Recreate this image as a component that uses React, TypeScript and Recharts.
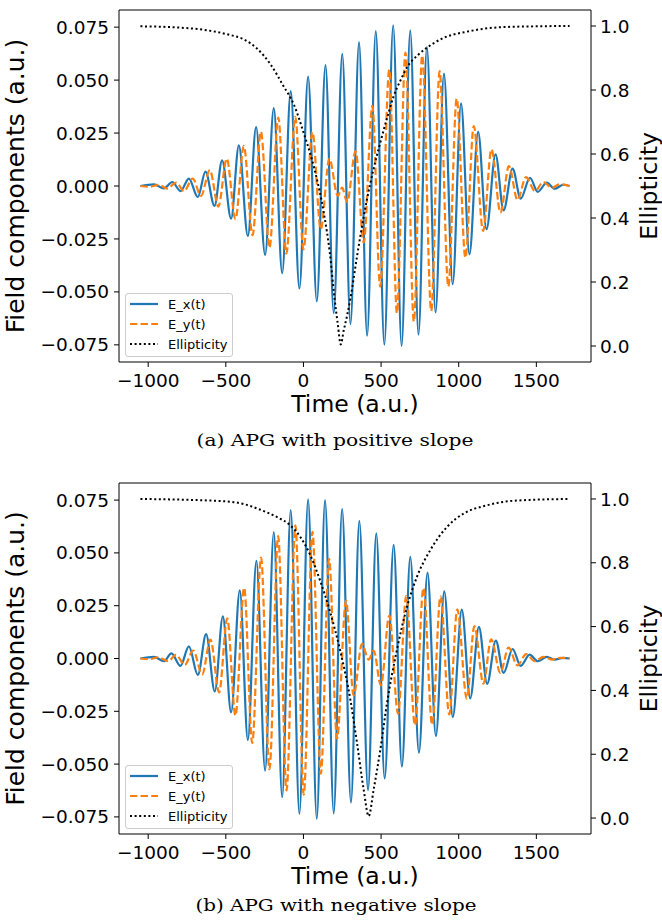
import React from 'react';
import { LineChart, Line, XAxis, YAxis, Legend, ReferenceLine } from 'recharts';

// ---------- axis ticks ----------
const TIME_TICKS = [-1000, -500, 0, 500, 1000, 1500];
const FIELD_TICKS = [-0.075, -0.05, -0.025, 0, 0.025, 0.05, 0.075];
const ELL_TICKS = [0, 0.2, 0.4, 0.6, 0.8, 1.0];
const TIME_DOMAIN: [number, number] = [-1188, 1852];
const FIELD_DOMAIN: [number, number] = [-0.0831, 0.0831];
const ELL_DOMAIN: [number, number] = [-0.05, 1.05];

// ---------- (a) APG with positive slope ----------
const aExT = [-1050, -963, -899, -845, -792, -738, -680, -631, -573, -524, -466, -416, -358, -305, -247, -191, -137, -82, -26, 30, 86, 142, 195, 250, 303, 358, 410, 466, 521, 578, 632, 688, 741, 795, 851, 905, 961, 1015, 1069, 1125, 1179, 1237, 1289, 1347, 1399, 1459, 1509, 1567, 1618, 1674, 1714];
const aExV = [0, 0.0008, -0.0011, 0.0019, -0.0024, 0.0035, -0.0052, 0.0068, -0.0094, 0.0121, -0.0154, 0.0192, -0.0236, 0.0278, -0.0325, 0.0368, -0.0412, 0.0448, -0.0484, 0.0516, -0.0545, 0.0571, -0.06, 0.0624, -0.0652, 0.0679, -0.0707, 0.0731, -0.0749, 0.0759, -0.0755, 0.0735, -0.0702, 0.0656, -0.0597, 0.0531, -0.0464, 0.039, -0.0322, 0.0256, -0.0204, 0.0149, -0.0115, 0.0082, -0.006, 0.0039, -0.0028, 0.0016, -0.0013, 0.0006, 0];

const aEyT = [-1050, -990, -932, -877, -820, -769, -713, -660, -603, -548, -494, -438, -384, -328, -274, -219, -162, -110, -53, 0, 58, 111, 167, 221, 249, 281, 336, 388, 444, 494, 553, 602, 657, 711, 765, 823, 877, 933, 987, 1043, 1097, 1157, 1211, 1269, 1323, 1379, 1433, 1491, 1545, 1599, 1653, 1714];
const aEyV = [0, -0.0003, 0.0005, -0.0012, 0.0016, -0.0024, 0.0035, -0.0047, 0.0075, -0.0097, 0.0129, -0.0157, 0.0189, -0.0232, 0.0256, -0.0291, 0.0323, -0.0319, 0.0327, -0.0299, 0.0255, -0.0204, 0.0129, -0.0047, -0.0008, -0.0075, 0.0165, -0.0267, 0.0378, -0.0475, 0.055, -0.06, 0.063, -0.064, 0.0616, -0.059, 0.0542, -0.0475, 0.0413, -0.0338, 0.0283, -0.0212, 0.0173, -0.0126, 0.0094, -0.0066, 0.0042, -0.0024, 0.0019, -0.0008, 0.0008, 0];

const aElT = [-1050, -800, -640, -490, -384, -300, -212, -127, -62, 2, 67, 131, 170, 200, 222, 240, 260, 281, 303, 345, 367, 409, 450, 495, 540, 581, 625, 666, 741, 795, 899, 1050, 1265, 1500, 1714];
const aElV = [0.999, 0.995, 0.988, 0.974, 0.958, 0.93, 0.88, 0.811, 0.755, 0.665, 0.56, 0.416, 0.29, 0.15, 0.065, 0.005, 0.05, 0.095, 0.15, 0.28, 0.345, 0.458, 0.55, 0.636, 0.715, 0.781, 0.83, 0.87, 0.911, 0.932, 0.962, 0.982, 0.996, 0.999, 1.0];

// ---------- (b) APG with negative slope ----------
const bExT = [-1050, -963, -899, -850, -792, -738, -680, -627, -571, -519, -466, -410, -358, -303, -247, -191, -137, -82, -26, 30, 86, 139, 195, 249, 306, 360, 416, 469, 523, 581, 634, 688, 744, 799, 853, 907, 962, 1020, 1074, 1130, 1183, 1239, 1289, 1347, 1399, 1457, 1509, 1567, 1618, 1674, 1714];
const bExV = [0, 0.0008, -0.0013, 0.0024, -0.0035, 0.0057, -0.0078, 0.0115, -0.0156, 0.0199, -0.0255, 0.0323, -0.0386, 0.0462, -0.0531, 0.0599, -0.0657, 0.0703, -0.0736, 0.0753, -0.0759, 0.075, -0.0733, 0.0708, -0.0682, 0.0652, -0.0623, 0.0592, -0.0568, 0.0538, -0.0512, 0.0481, -0.0446, 0.0407, -0.0367, 0.0318, -0.0277, 0.0231, -0.0189, 0.015, -0.012, 0.0085, -0.0068, 0.0045, -0.0035, 0.0018, -0.0013, 0.0008, -0.0005, 0.0003, 0];

const bEyT = [-1050, -990, -936, -871, -822, -764, -710, -652, -599, -543, -491, -438, -382, -330, -273, -219, -163, -109, -52, 2, 58, 112, 165, 216, 274, 323, 377, 420, 452, 499, 553, 609, 662, 718, 773, 829, 883, 939, 991, 1052, 1101, 1159, 1209, 1268, 1321, 1378, 1434, 1490, 1545, 1600, 1655, 1714];
const bEyV = [0, -0.0003, 0.0006, -0.0013, 0.0017, -0.003, 0.0038, -0.0075, 0.009, -0.016, 0.019, -0.027, 0.0335, -0.04, 0.0478, -0.0525, 0.058, -0.0625, 0.063, -0.0645, 0.06, -0.0545, 0.0472, -0.0379, 0.0274, -0.0175, 0.0069, -0.0005, 0.0038, -0.0127, 0.0203, -0.0261, 0.0297, -0.0316, 0.0334, -0.0314, 0.0294, -0.0265, 0.0233, -0.019, 0.0153, -0.0119, 0.0091, -0.0068, 0.0052, -0.0033, 0.0021, -0.0013, 0.0008, -0.0005, 0.0003, 0];

const bElT = [-1050, -513, -384, -277, -170, -84, -19, 45, 109, 174, 238, 302, 345, 388, 420, 452, 495, 538, 602, 667, 731, 816, 924, 1031, 1181, 1373, 1714];
const bElV = [1.0, 0.993, 0.984, 0.966, 0.943, 0.917, 0.88, 0.823, 0.742, 0.642, 0.522, 0.371, 0.235, 0.089, 0.006, 0.089, 0.214, 0.36, 0.527, 0.662, 0.756, 0.839, 0.912, 0.954, 0.98, 0.995, 1.0];

const SERIES_NAMES = ['E_x(t)', 'E_y(t)', 'Ellipticity'];
const CAPTIONS = ['(a) APG with positive slope', '(b) APG with negative slope'];

const BLUE = '#1f77b4';
const ORANGE = '#ff7f0e';
const FONT = '"DejaVu Sans", sans-serif';
const SERIF = '"DejaVu Serif", serif';
const TICK_FS = 18.5;
const TITLE_FS = 23.5;
const YTITLE_FS = 25;
const LINE_W = 2.2;
const DASH = '7.4 3.2';
const DOT = '2 2.6';

const pts = (ts: number[], vs: number[]) => ts.map((t, i) => ({ t, v: vs[i] }));
const minus = (s: string) => s.replace('-', '\u2212');
const fmtTime = (v: number) => minus(String(v));
const fmtField = (v: number) => minus(v.toFixed(3));
const fmtEll = (v: number) => v.toFixed(1);

const LegendBox = () => (
  <div
    style={{
      width: 108,
      height: 64,
      boxSizing: 'border-box',
      border: '1px solid #cccccc',
      borderRadius: 3,
      background: 'rgba(255,255,255,0.8)',
    }}
  >
    <svg width={106} height={62} style={{ display: 'block' }}>
      <line x1={4} x2={32} y1={10} y2={10} stroke={BLUE} strokeWidth={LINE_W} />
      <line x1={4} x2={32} y1={30} y2={30} stroke={ORANGE} strokeWidth={LINE_W} strokeDasharray={DASH} />
      <line x1={4} x2={32} y1={50} y2={50} stroke="#000" strokeWidth={2} strokeDasharray={DOT} />
      {SERIES_NAMES.map((n, i) => (
        <text key={n} x={42} y={10 + i * 20} dy="0.35em" fontFamily={FONT} fontSize={13} fill="#000">
          {n}
        </text>
      ))}
    </svg>
  </div>
);

type PanelProps = {
  top: number;
  height: number;
  marginTop: number;
  marginBottom: number;
  legendTop: number;
  ex: { t: number; v: number }[];
  ey: { t: number; v: number }[];
  el: { t: number; v: number }[];
};

const Panel = ({ top, height, marginTop, marginBottom, legendTop, ex, ey, el }: PanelProps) => {
  const plotBottom = height - marginBottom - 30;
  const plotMid = (marginTop + plotBottom) / 2;
  return (
    <div style={{ position: 'absolute', left: 0, top, width: 662, height }}>
      <LineChart width={662} height={height} margin={{ top: marginTop, right: 21, bottom: marginBottom, left: 59 }}>
        <XAxis
          xAxisId="b"
          type="number"
          dataKey="t"
          domain={TIME_DOMAIN}
          ticks={TIME_TICKS}
          allowDataOverflow
          tickFormatter={fmtTime}
          tickSize={5}
          tickMargin={7}
          height={30}
          stroke="#000"
          tick={{ fontFamily: FONT, fontSize: TICK_FS, fill: '#000' }}
          label={{
            content: () => (
              <text x={355} y={plotBottom + 50} textAnchor="middle" fontFamily={FONT} fontSize={TITLE_FS} fill="#000">
                Time (a.u.)
              </text>
            ),
          }}
        />
        <YAxis
          yAxisId="f"
          type="number"
          domain={FIELD_DOMAIN}
          ticks={FIELD_TICKS}
          allowDataOverflow
          tickFormatter={fmtField}
          width={60}
          tickSize={5}
          tickMargin={5}
          stroke="#000"
          tick={{ fontFamily: FONT, fontSize: TICK_FS, fill: '#000' }}
          label={{
            content: () => (
              <text
                x={24}
                y={plotMid}
                transform={`rotate(-90 24 ${plotMid})`}
                textAnchor="middle"
                fontFamily={FONT}
                fontSize={YTITLE_FS}
                fill="#000"
              >
                Field components (a.u.)
              </text>
            ),
          }}
        />
        <YAxis
          yAxisId="e"
          orientation="right"
          type="number"
          domain={ELL_DOMAIN}
          ticks={ELL_TICKS}
          allowDataOverflow
          tickFormatter={fmtEll}
          width={50}
          tickSize={5}
          tickMargin={4}
          stroke="#000"
          tick={{ fontFamily: FONT, fontSize: TICK_FS, fill: '#000' }}
          label={{
            content: () => (
              <text
                x={657}
                y={plotMid}
                transform={`rotate(-90 657 ${plotMid})`}
                textAnchor="middle"
                fontFamily={FONT}
                fontSize={TITLE_FS}
                fill="#000"
              >
                Ellipticity
              </text>
            ),
          }}
        />
        <ReferenceLine xAxisId="b" yAxisId="f" y={FIELD_DOMAIN[1]} stroke="#000" strokeWidth={1} ifOverflow="visible" />
        <Line
          xAxisId="b"
          yAxisId="f"
          data={ex}
          dataKey="v"
          name={SERIES_NAMES[0]}
          type="monotone"
          stroke={BLUE}
          strokeWidth={LINE_W}
          dot={false}
          activeDot={false}
          isAnimationActive={false}
        />
        <Line
          xAxisId="b"
          yAxisId="f"
          data={ey}
          dataKey="v"
          name={SERIES_NAMES[1]}
          type="monotone"
          stroke={ORANGE}
          strokeWidth={LINE_W}
          strokeDasharray={DASH}
          dot={false}
          activeDot={false}
          isAnimationActive={false}
        />
        <Line
          xAxisId="b"
          yAxisId="e"
          data={el}
          dataKey="v"
          name={SERIES_NAMES[2]}
          type="monotone"
          stroke="#000"
          strokeWidth={2}
          strokeDasharray={DOT}
          dot={false}
          activeDot={false}
          isAnimationActive={false}
        />
        <Legend
          layout="vertical"
          align="center"
          verticalAlign="middle"
          content={() => <LegendBox />}
          wrapperStyle={{ position: 'absolute', left: 125, top: legendTop, width: 108, height: 64 }}
        />
      </LineChart>
    </div>
  );
};

export default function App() {
  return (
    <div style={{ position: 'absolute', left: 0, top: 0, width: 662, height: 922, background: '#fff' }}>
      <Panel
        top={0}
        height={460}
        marginTop={10}
        marginBottom={68}
        legendTop={293}
        ex={pts(aExT, aExV)}
        ey={pts(aEyT, aEyV)}
        el={pts(aElT, aElV)}
      />
      <Panel
        top={470}
        height={452}
        marginTop={13}
        marginBottom={58}
        legendTop={295}
        ex={pts(bExT, bExV)}
        ey={pts(bEyT, bEyV)}
        el={pts(bElT, bElV)}
      />
      <svg width={662} height={922} style={{ position: 'absolute', left: 0, top: 0, pointerEvents: 'none' }}>
        <text x={335} y={446} textAnchor="middle" fontFamily={SERIF} fontSize={16.5} textLength={277} lengthAdjust="spacingAndGlyphs" fill="#000">
          {CAPTIONS[0]}
        </text>
        <text x={336} y={911} textAnchor="middle" fontFamily={SERIF} fontSize={16.5} textLength={281} lengthAdjust="spacingAndGlyphs" fill="#000">
          {CAPTIONS[1]}
        </text>
      </svg>
    </div>
  );
}
